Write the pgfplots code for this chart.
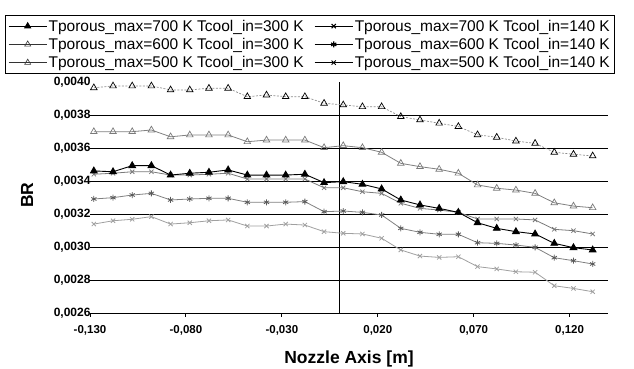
\documentclass[border=0pt]{standalone}
\usepackage{fontspec}
\setmainfont{Liberation Sans}
\usepackage{pgfplots}
\usepackage{pgfplotstable}
\pgfplotsset{compat=1.18}
\definecolor{gA}{HTML}{8C8C8C}
\definecolor{gB}{HTML}{808080}
\definecolor{gD}{HTML}{7A7A7A}
\definecolor{gE}{HTML}{5A5A5A}
\definecolor{gF}{HTML}{A0A0A0}
\pgfplotstableread{
x A B C D E F
-0.128 0.003965 0.003699 0.003461 0.003441 0.003291 0.003139
-0.118 0.003976 0.003699 0.003456 0.003447 0.003299 0.003159
-0.108 0.003976 0.003699 0.003493 0.003456 0.003315 0.003168
-0.098 0.003976 0.003709 0.003493 0.003456 0.003325 0.003184
-0.088 0.003952 0.003668 0.003436 0.003436 0.003285 0.003139
-0.078 0.003952 0.003679 0.003447 0.003436 0.003291 0.003147
-0.068 0.003962 0.003679 0.003453 0.003441 0.003295 0.003159
-0.058 0.003962 0.003679 0.003467 0.003447 0.003295 0.003164
-0.048 0.003911 0.003638 0.003436 0.003412 0.003271 0.003127
-0.038 0.003921 0.003648 0.003436 0.003412 0.003271 0.003127
-0.028 0.003911 0.003648 0.003436 0.003412 0.003271 0.003139
-0.018 0.003911 0.003648 0.003441 0.003412 0.003275 0.003133
-0.008 0.003871 0.003602 0.003390 0.003359 0.003214 0.003093
0.002 0.003861 0.003614 0.003396 0.003359 0.003218 0.003083
0.012 0.003850 0.003602 0.003380 0.003335 0.003210 0.003079
0.022 0.003850 0.003574 0.003352 0.003325 0.003194 0.003053
0.032 0.003790 0.003507 0.003285 0.003265 0.003113 0.002982
0.042 0.003770 0.003487 0.003255 0.003234 0.003089 0.002945
0.052 0.003750 0.003471 0.003234 0.003224 0.003077 0.002937
0.062 0.003730 0.003447 0.003210 0.003210 0.003077 0.002941
0.072 0.003680 0.003376 0.003147 0.003170 0.003026 0.002881
0.082 0.003665 0.003356 0.003113 0.003170 0.003022 0.002867
0.092 0.003642 0.003345 0.003093 0.003170 0.003012 0.002850
0.102 0.003628 0.003325 0.003079 0.003164 0.002998 0.002847
0.112 0.003574 0.003268 0.003022 0.003107 0.002935 0.002765
0.122 0.003562 0.003248 0.002996 0.003099 0.002917 0.002749
0.132 0.003552 0.003238 0.002982 0.003079 0.002897 0.002729
}\datatable
\begin{document}
\begin{tikzpicture}
\useasboundingbox (0,0) rectangle (634pt,369pt);
\begin{axis}[
  at={(90pt,56pt)}, anchor=south west,
  scale only axis, width=518pt, height=231pt,
  xmin=-0.13, xmax=0.14, ymin=0.0026, ymax=0.0040,
  axis x line*=bottom, axis y line*=left,
  y axis line style={draw=none},
  x axis line style={black, line width=0.9pt},
  xtick={-0.13,-0.08,-0.03,0.02,0.07,0.12},
  xtick align=outside, xtick pos=bottom,
  major tick length=4pt,
  xtick style={black, line width=0.9pt},
  ytick={0.0026,0.0028,0.0030,0.0032,0.0034,0.0036,0.0038},
  ytick style={draw=none},
  ymajorgrids, major grid style={black, line width=0.8pt},
  extra y ticks={0.0040},
  extra y tick style={grid=none},
  extra x ticks={0},
  extra x tick labels={},
  extra x tick style={grid=major, major grid style={black, line width=1.5pt}, tick style={draw=none}},
  /pgf/number format/assume math mode=true,
  yticklabel style={xshift=4pt, font=\bfseries\fontsize{12}{14}\selectfont, /pgf/number format/.cd, fixed, fixed zerofill, precision=4, use comma, 1000 sep={}},
  xticklabel style={yshift=-5pt, font=\bfseries\fontsize{11.5}{14}\selectfont, /pgf/number format/.cd, fixed, fixed zerofill, precision=3, use comma, 1000 sep={}},
  scaled y ticks=false, scaled x ticks=false,
  xlabel={Nozzle Axis [m]},
  xlabel style={font=\bfseries\fontsize{17.5}{20}\selectfont, at={(axis description cs:0.5,0)}, anchor=base, yshift=-51pt},
  ylabel={BR},
  ylabel style={font=\bfseries\fontsize{17.5}{20}\selectfont, at={(axis description cs:-0.1216,0.51)}, anchor=center},
  legend columns=2,
  legend cell align=left,
  legend style={at={(-0.1641,1.29)}, anchor=north west, draw=black, line width=0.6pt,
    font=\fontsize{15.5}{18}\selectfont, inner xsep=3pt, inner ysep=3pt,
    nodes={inner sep=1.5pt}, row sep=2.5pt,
    /tikz/every even column/.append style={column sep=9pt}},
  legend image code/.code={\draw[mark repeat=2,mark phase=2] plot coordinates {(0pt,0pt) (19pt,0pt) (38pt,0pt)};},
]
\addlegendimage{black, line width=0.8pt, mark=triangle*, mark size=3.5pt, mark options={solid, fill=black}}
\addlegendentry{Tporous\_max=700 K Tcool\_in=300 K}
\addlegendimage{black, line width=1.1pt, mark=x, mark size=3pt, mark options={solid}}
\addlegendentry{Tporous\_max=700 K Tcool\_in=140 K}
\addlegendimage{black!80, line width=0.6pt, mark=triangle, mark size=3.5pt, mark options={solid, fill=white}}
\addlegendentry{Tporous\_max=600 K Tcool\_in=300 K}
\addlegendimage{black, line width=1.1pt, mark=asterisk, mark size=3pt, mark options={solid}}
\addlegendentry{Tporous\_max=600 K Tcool\_in=140 K}
\addlegendimage{black!80, line width=0.6pt, mark=triangle, mark size=3.5pt, mark options={solid, fill=white}}
\addlegendentry{Tporous\_max=500 K Tcool\_in=300 K}
\addlegendimage{black, line width=0.9pt, mark=x, mark size=3pt, mark options={solid}}
\addlegendentry{Tporous\_max=500 K Tcool\_in=140 K}

\addplot[forget plot, gA, line width=0.7pt, dash pattern=on 2pt off 1.5pt, mark=triangle, mark size=3.8pt, mark options={solid, draw=black, fill=white, line width=0.7pt}] table[x=x, y=A] {\datatable};
\addplot[forget plot, gB, line width=0.8pt, mark=triangle, mark size=3.8pt, mark options={solid, draw=gD, fill=white, line width=0.7pt}] table[x=x, y=B] {\datatable};
\addplot[forget plot, gF, line width=0.8pt, mark=x, mark size=3pt, mark options={solid, gF}] table[x=x, y=F] {\datatable};
\addplot[forget plot, gB, line width=0.8pt, mark=asterisk, mark size=3pt, mark options={solid, gE}] table[x=x, y=E] {\datatable};
\addplot[forget plot, gD, line width=0.8pt, mark=x, mark size=3pt, mark options={solid, gD}] table[x=x, y=D] {\datatable};
\addplot[forget plot, black, line width=0.9pt, mark=triangle*, mark size=3.8pt, mark options={solid, fill=black}] table[x=x, y=C] {\datatable};
\end{axis}
\end{tikzpicture}
\end{document}
